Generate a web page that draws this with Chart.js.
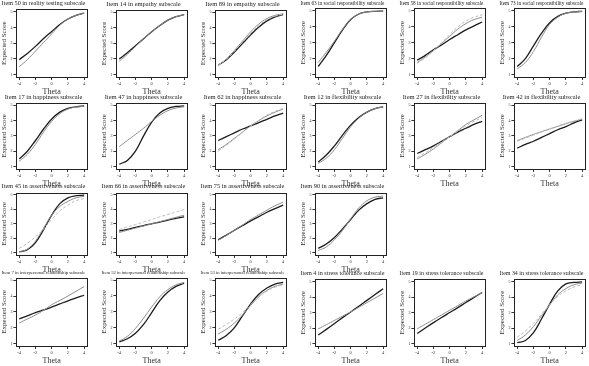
<!DOCTYPE html>
<html>
<head>
<meta charset="utf-8">
<script src="https://cdn.jsdelivr.net/npm/chart.js@4.4.1/dist/chart.umd.min.js"></script>
<style>
  html, body { margin: 0; padding: 0; background: #fff; }
  #grid { position: relative; width: 589px; height: 366px; background: #fff; overflow: hidden; }
  #grid canvas { position: absolute; }
</style>
</head>
<body>
<div id="grid"></div>
<script>
// theta grid shared by all panels
const theta = [-4, -3, -2, -1, 0, 1, 2, 3, 4];
const thetaTicks = [-4, -2, 0, 2, 4];
const scoreTicks = [1, 2, 3, 4, 5];

const titles = [
    'Item 50 in reality testing subscale',
    'Item 14 in empathy subscale',
    'Item 89 in empathy subscale',
    'Item 63 in social responsibility subscale',
    'Item 58 in social responsibility subscale',
    'Item 73 in social responsibility subscale',
    'Item 17 in happiness subscale',
    'Item 47 in happiness subscale',
    'Item 62 in happiness subscale',
    'Item 12 in flexibility subscale',
    'Item 27 in flexibility subscale',
    'Item 42 in flexibility subscale',
    'Item 45 in assertiveness subscale',
    'Item 66 in assertiveness subscale',
    'Item 75 in assertiveness subscale',
    'Item 90 in assertiveness subscale',
    'Item 7 in interpersonal relationship subscale',
    'Item 52 in interpersonal relationship subscale',
    'Item 53 in interpersonal relationship subscale',
    'Item 4 in stress tolerance subscale',
    'Item 19 in stress tolerance subscale',
    'Item 34 in stress tolerance subscale'
];

// expected score curves (one row per panel)
const blackCurves = [
    [1.95, 2.35, 2.8, 3.3, 3.75, 4.2, 4.55, 4.78, 4.92],
    [2.0, 2.4, 2.85, 3.3, 3.75, 4.15, 4.5, 4.72, 4.85],
    [1.6, 1.95, 2.45, 3.0, 3.55, 4.05, 4.45, 4.7, 4.85],
    [1.5, 2.2, 3.0, 3.8, 4.45, 4.8, 4.93, 4.97, 4.98],
    [1.9, 2.2, 2.55, 2.85, 3.2, 3.5, 3.8, 4.05, 4.3],
    [1.5, 2.0, 2.8, 3.6, 4.25, 4.65, 4.85, 4.93, 4.97],
    [1.5, 2.0, 2.7, 3.45, 4.1, 4.55, 4.8, 4.9, 4.95],
    [1.15, 1.4, 2.0, 3.0, 3.9, 4.5, 4.8, 4.92, 4.96],
    [2.7, 2.95, 3.2, 3.45, 3.65, 3.87, 4.08, 4.3, 4.48],
    [1.3, 1.75, 2.35, 3.05, 3.7, 4.2, 4.55, 4.78, 4.9],
    [1.85, 2.1, 2.35, 2.65, 2.95, 3.25, 3.5, 3.75, 3.95],
    [2.2, 2.45, 2.65, 2.9, 3.15, 3.4, 3.6, 3.85, 4.05],
    [1.05, 1.2, 1.7, 2.6, 3.6, 4.4, 4.8, 4.95, 4.98],
    [2.5, 2.62, 2.75, 2.88, 3.0, 3.12, 3.25, 3.37, 3.48],
    [1.9, 2.22, 2.55, 2.88, 3.2, 3.5, 3.8, 4.05, 4.3],
    [1.3, 1.6, 2.05, 2.65, 3.3, 3.95, 4.4, 4.7, 4.8],
    [2.55, 2.75, 2.95, 3.12, 3.3, 3.5, 3.7, 3.88, 4.05],
    [1.1, 1.3, 1.65, 2.2, 2.95, 3.7, 4.25, 4.6, 4.8],
    [1.2, 1.5, 2.0, 2.75, 3.5, 4.1, 4.5, 4.75, 4.85],
    [1.55, 1.92, 2.3, 2.68, 3.05, 3.42, 3.8, 4.18, 4.55],
    [1.65, 2.0, 2.35, 2.68, 3.0, 3.32, 3.65, 3.98, 4.3],
    [1.05, 1.2, 1.7, 2.6, 3.55, 4.4, 4.85, 4.95, 4.98]
];

const greyCurves = [
    [1.5, 1.95, 2.5, 3.05, 3.6, 4.15, 4.55, 4.78, 4.92],
    [1.85, 2.3, 2.8, 3.3, 3.75, 4.15, 4.5, 4.72, 4.85],
    [1.6, 2.0, 2.55, 3.15, 3.75, 4.25, 4.6, 4.8, 4.9],
    [1.75, 2.4, 3.1, 3.85, 4.45, 4.8, 4.93, 4.97, 4.98],
    [1.75, 2.1, 2.5, 2.95, 3.4, 3.85, 4.2, 4.45, 4.6],
    [1.35, 1.75, 2.45, 3.35, 4.15, 4.6, 4.85, 4.93, 4.97],
    [1.35, 1.8, 2.45, 3.25, 3.95, 4.45, 4.75, 4.88, 4.93],
    [2.3, 2.7, 3.1, 3.5, 3.95, 4.35, 4.65, 4.82, 4.9],
    [2.1, 2.45, 2.85, 3.25, 3.65, 4.0, 4.3, 4.55, 4.75],
    [1.2, 1.55, 2.1, 2.85, 3.6, 4.15, 4.55, 4.78, 4.9],
    [1.5, 1.8, 2.15, 2.55, 2.95, 3.35, 3.75, 4.05, 4.35],
    [2.7, 2.9, 3.1, 3.28, 3.45, 3.62, 3.8, 3.95, 4.1],
    [1.05, 1.25, 1.8, 2.7, 3.6, 4.2, 4.55, 4.8, 4.9],
    [2.4, 2.55, 2.7, 2.85, 3.0, 3.15, 3.3, 3.45, 3.6],
    [1.85, 2.2, 2.55, 2.92, 3.3, 3.62, 3.95, 4.25, 4.5],
    [1.15, 1.4, 1.9, 2.55, 3.35, 4.1, 4.6, 4.85, 4.92],
    [2.3, 2.55, 2.8, 3.1, 3.45, 3.72, 4.0, 4.3, 4.6],
    [1.15, 1.45, 1.95, 2.6, 3.3, 3.95, 4.4, 4.7, 4.85],
    [1.6, 1.9, 2.3, 2.8, 3.4, 3.95, 4.35, 4.6, 4.75],
    [1.95, 2.22, 2.5, 2.78, 3.05, 3.35, 3.65, 3.95, 4.25],
    [1.95, 2.25, 2.55, 2.85, 3.15, 3.45, 3.75, 4.02, 4.3],
    [1.2, 1.55, 2.1, 2.8, 3.5, 4.15, 4.55, 4.8, 4.9]
];

// third (light) curve, only where one is visible
const lightCurves = [
    null, null,
    [1.6, 1.98, 2.5, 3.08, 3.65, 4.15, 4.52, 4.75, 4.88],
    null,
    [1.7, 2.05, 2.5, 3.0, 3.5, 4.0, 4.35, 4.6, 4.75],
    null, null, null,
    [2.0, 2.38, 2.8, 3.22, 3.65, 4.02, 4.35, 4.6, 4.8],
    null,
    [1.6, 1.9, 2.25, 2.6, 2.95, 3.3, 3.65, 3.95, 4.2],
    [2.65, 2.85, 3.05, 3.25, 3.45, 3.65, 3.82, 3.98, 4.12],
    [1.3, 1.65, 2.1, 2.65, 3.3, 3.9, 4.3, 4.6, 4.75],
    [2.6, 2.78, 2.95, 3.12, 3.3, 3.48, 3.65, 3.82, 4.0],
    null, null, null, null,
    [1.9, 2.2, 2.55, 2.95, 3.45, 3.95, 4.3, 4.55, 4.7],
    null, null,
    [1.4, 1.8, 2.3, 2.9, 3.5, 4.05, 4.4, 4.65, 4.8]
];

const SERIF = '"Liberation Serif", "DejaVu Serif", serif';

// full frame around the plot area, like base R graphics
const boxPlugin = {
    id: 'box',
    afterDraw(chart) {
        const a = chart.chartArea;
        const ctx = chart.ctx;
        ctx.save();
        ctx.strokeStyle = '#222';
        ctx.lineWidth = 1;
        ctx.strokeRect(Math.round(a.left) + 0.5, Math.round(a.top) + 0.5,
            Math.round(a.right - a.left), Math.round(a.bottom - a.top));
        ctx.restore();
    }
};

function titleSize(text) {
    const c = document.createElement('canvas').getContext('2d');
    let size = 6.5;
    c.font = size + 'px ' + SERIF;
    const w = c.measureText(text).width;
    if (w > 84) size = size * 84 / w;
    return size;
}

function makeDataset(values, color, width, dash) {
    return {
        data: theta.map((t, i) => ({ x: t, y: values[i] })),
        borderColor: color,
        borderWidth: width,
        borderDash: dash,
        pointRadius: 0,
        tension: 0.4,
        fill: false
    };
}

function createPanel(i, left, top, height) {
    const canvas = document.createElement('canvas');
    canvas.width = 90;
    canvas.height = height;
    canvas.style.left = left + 'px';
    canvas.style.top = top + 'px';
    document.getElementById('grid').appendChild(canvas);

    const datasets = [];
    if (lightCurves[i]) datasets.push(makeDataset(lightCurves[i], '#bdbdbd', 1, [3, 2]));
    datasets.push(makeDataset(greyCurves[i], '#8c8c8c', 1, []));
    datasets.push(makeDataset(blackCurves[i], '#1c1c1c', 1.3, []));

    return new Chart(canvas.getContext('2d'), {
        type: 'line',
        data: { datasets },
        options: {
            responsive: false,
            animation: false,
            devicePixelRatio: 1,
            layout: { padding: { right: 3, left: 0, top: 0, bottom: 0 } },
            plugins: {
                legend: { display: false },
                tooltip: { enabled: false },
                title: {
                    display: true,
                    text: titles[i],
                    color: '#222',
                    font: { family: SERIF, size: titleSize(titles[i]), weight: 'normal' },
                    padding: { top: 0, bottom: 2 }
                }
            },
            scales: {
                x: {
                    type: 'linear',
                    min: -4.35,
                    max: 4.35,
                    afterBuildTicks: s => { s.ticks = thetaTicks.map(v => ({ value: v })); },
                    grid: { display: true, drawOnChartArea: false, tickLength: 3, color: '#333' },
                    border: { display: false },
                    ticks: { color: '#333', font: { family: SERIF, size: 4.5 }, padding: 1, maxRotation: 0 },
                    title: { display: true, text: 'Theta', color: '#333', font: { family: SERIF, size: 8 }, padding: { top: 0, bottom: 0 } }
                },
                y: {
                    min: 0.84,
                    max: 5.16,
                    afterBuildTicks: s => { s.ticks = scoreTicks.map(v => ({ value: v })); },
                    grid: { display: true, drawOnChartArea: false, tickLength: 3, color: '#333' },
                    border: { display: false },
                    ticks: { color: '#333', font: { family: SERIF, size: 4 }, padding: 1 },
                    title: { display: true, text: 'Expected Score', color: '#333', font: { family: SERIF, size: 7 }, padding: { top: 0, bottom: 1 } }
                }
            }
        },
        plugins: [boxPlugin]
    });
}

const rowTops = [0, 93, 183, 270];
const rowHeights = [97, 96, 92, 96];
for (let i = 0; i < titles.length; i++) {
    let row, col;
    if (i < 12) { row = Math.floor(i / 6); col = i % 6; }
    else if (i < 16) { row = 2; col = i - 12; }
    else { row = 3; col = i - 16; }
    createPanel(i, Math.round(col * 99.5), rowTops[row], rowHeights[row]);
}
</script>
</body>
</html>
